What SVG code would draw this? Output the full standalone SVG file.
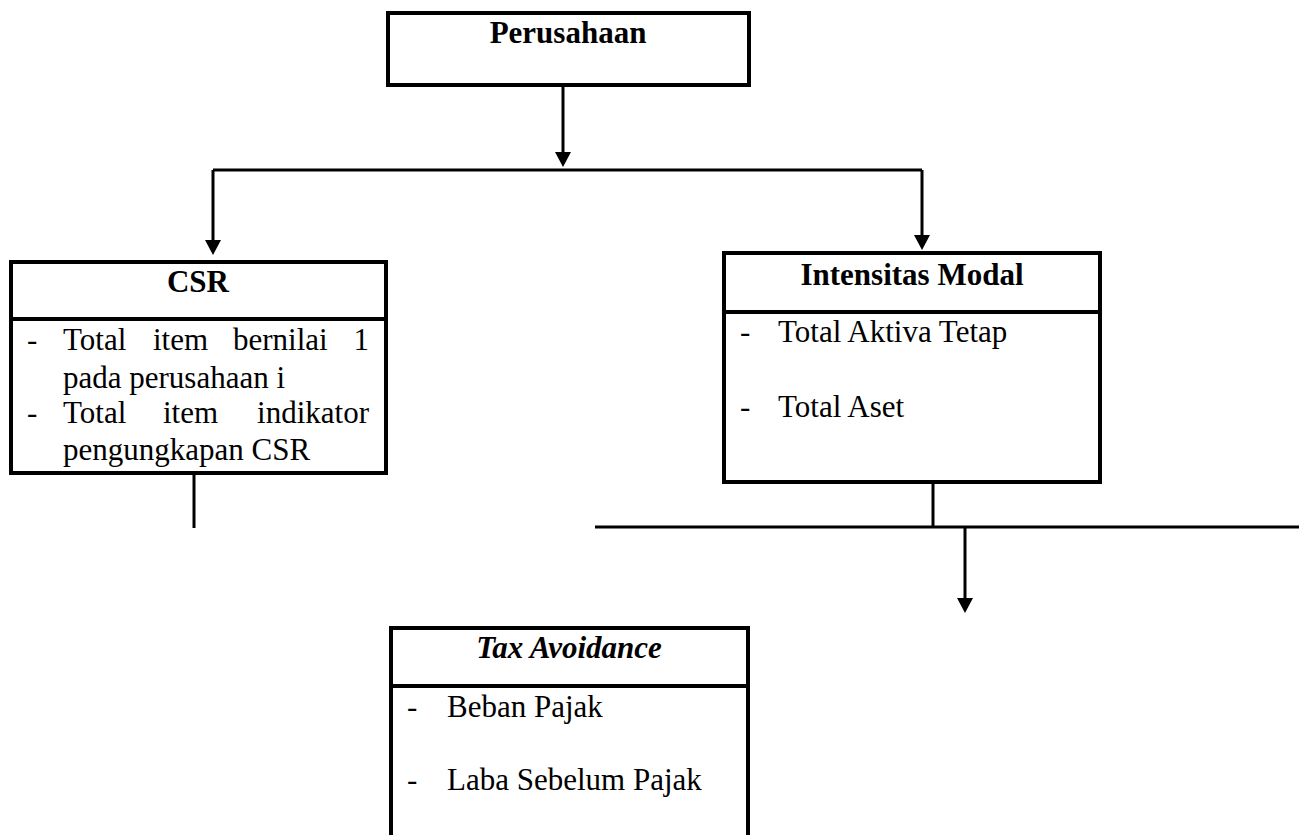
<svg xmlns="http://www.w3.org/2000/svg" width="1299" height="835" viewBox="0 0 1299 835">
<style>
  .box{fill:#fff;stroke:#000;stroke-width:4}
  .div{stroke:#000;stroke-width:4}
  .ln{stroke:#000;stroke-width:3;fill:none}
  .t{font-family:"Liberation Serif","Times New Roman",serif;font-size:31px;fill:#000}
  .h{font-weight:bold;text-anchor:middle}
  .hi{font-weight:bold;font-style:italic;text-anchor:middle}
</style>
<defs>
  <marker id="ah" viewBox="0 0 16 15" refX="8" refY="15" markerWidth="16" markerHeight="15" markerUnits="userSpaceOnUse" orient="auto">
    <path d="M0,0 L16,7.5 L0,15 Z" fill="#000"/>
  </marker>
</defs>
<rect width="1299" height="835" fill="#fff"/>

<g id="connectors">
  <path class="ln" d="M563,87 V153"/>
  <path d="M555,152 L571,152 L563,167 Z" fill="#000"/>
  <path class="ln" d="M213,170 H922"/>
  <path class="ln" d="M213,170 V241"/>
  <path d="M205,240 L221,240 L213,255 Z" fill="#000"/>
  <path class="ln" d="M922,170 V236"/>
  <path d="M914,235 L930,235 L922,250 Z" fill="#000"/>
  <path class="ln" d="M194,473 V528"/>
  <path class="ln" d="M933,482 V527"/>
  <path class="ln" d="M595,527 H1299"/>
  <path class="ln" d="M965,527 V599"/>
  <path d="M957,598 L973,598 L965,613 Z" fill="#000"/>
</g>

<g id="perusahaan">
  <rect class="box" x="388" y="13" width="361" height="72"/>
  <text class="t h" x="568" y="43">Perusahaan</text>
</g>

<g id="csr">
  <rect class="box" x="11" y="262" width="375" height="211"/>
  <line class="div" x1="11" y1="319" x2="386" y2="319"/>
  <text class="t h" x="198" y="292">CSR</text>
  <text class="t" x="27" y="350">-</text>
  <text class="t" x="63" y="350">Total</text>
  <text class="t" x="153" y="350">item</text>
  <text class="t" x="233" y="350">bernilai</text>
  <text class="t" x="369" y="350" text-anchor="end">1</text>
  <text class="t" x="63" y="388">pada perusahaan i</text>
  <text class="t" x="27" y="423">-</text>
  <text class="t" x="63" y="423">Total</text>
  <text class="t" x="163" y="423">item</text>
  <text class="t" x="369" y="423" text-anchor="end">indikator</text>
  <text class="t" x="63" y="460">pengungkapan CSR</text>
</g>

<g id="intensitas-modal">
  <rect class="box" x="724" y="253" width="376" height="229"/>
  <line class="div" x1="724" y1="312" x2="1100" y2="312"/>
  <text class="t h" x="912" y="285">Intensitas Modal</text>
  <text class="t" x="740" y="342">-</text>
  <text class="t" x="778" y="342">Total Aktiva Tetap</text>
  <text class="t" x="740" y="417">-</text>
  <text class="t" x="778" y="417">Total Aset</text>
</g>

<g id="tax-avoidance">
  <path class="box" d="M391,840 V628 H748 V840"/>
  <line class="div" x1="391" y1="686" x2="748" y2="686"/>
  <text class="t hi" x="569" y="658">Tax Avoidance</text>
  <text class="t" x="407" y="717">-</text>
  <text class="t" x="447" y="717">Beban Pajak</text>
  <text class="t" x="407" y="790">-</text>
  <text class="t" x="447" y="790">Laba Sebelum Pajak</text>
</g>
</svg>
